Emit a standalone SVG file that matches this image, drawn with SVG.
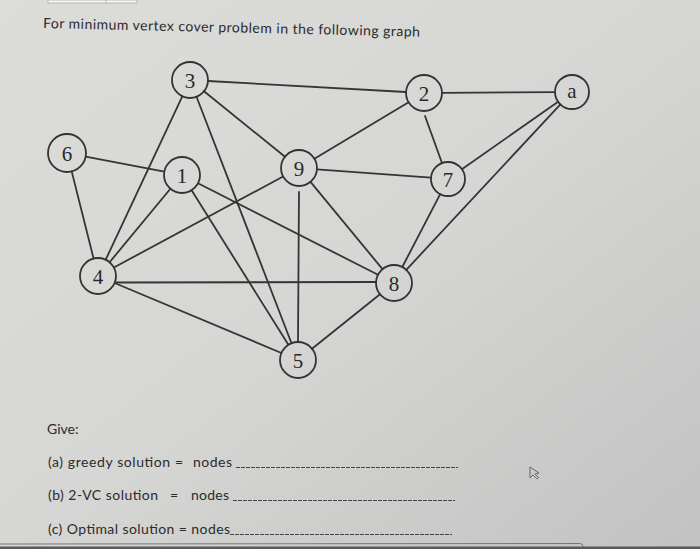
<svg xmlns="http://www.w3.org/2000/svg" width="700" height="549" viewBox="0 0 700 549">
<defs>
<linearGradient id="bg" x1="0" y1="0" x2="1" y2="1">
<stop offset="0" stop-color="#dcdcd9"/>
<stop offset="0.5" stop-color="#d6d6d4"/>
<stop offset="1" stop-color="#c2c2c2"/>
</linearGradient>
<style>
.edge{stroke:#353535;stroke-width:1.8;fill:none;stroke-linecap:round}
.node circle{fill:none;stroke:#333;stroke-width:1.8}
.node text{font-family:"Liberation Serif","DejaVu Serif",serif;font-size:21px;fill:#2a2a2a;text-anchor:middle}
.t{font-family:Lato,"Liberation Sans",sans-serif;font-size:14px;fill:#2b2b2b}
.dash{stroke:#444;stroke-width:1;stroke-dasharray:4 1}
</style>
</defs>
<rect width="700" height="549" fill="url(#bg)"/>
<rect x="48" y="0" width="89" height="3" fill="#f4f4f2" stroke="#999" stroke-width="0.6"/>
<line x1="106" y1="0" x2="106" y2="3" stroke="#999" stroke-width="0.6"/>

<text class="t" x="43" y="28" font-size="15" textLength="377" transform="rotate(1.3 43 28)">For minimum vertex cover problem in the following graph</text>

<g id="connectors">
<line class="edge" x1="208" y1="81" x2="406" y2="92"/>
<line class="edge" x1="204" y1="91.3" x2="285" y2="156.7"/>
<line class="edge" x1="182.3" y1="96.3" x2="105.7" y2="259.7"/>
<line class="edge" x1="196.5" y1="96.8" x2="291.5" y2="343.2"/>
<line class="edge" x1="85.7" y1="156.6" x2="164.3" y2="171.6"/>
<line class="edge" x1="71.7" y1="171.4" x2="93.6" y2="258.6"/>
<line class="edge" x1="170.4" y1="188.8" x2="109.6" y2="262.2"/>
<line class="edge" x1="198" y1="183.2" x2="378" y2="274.8"/>
<line class="edge" x1="191.6" y1="190.2" x2="288.4" y2="344.8"/>
<line class="edge" x1="283.1" y1="176.5" x2="113.9" y2="267.5"/>
<line class="edge" x1="314.4" y1="158.7" x2="408.6" y2="102.3"/>
<line class="edge" x1="317" y1="169.3" x2="431" y2="177.7"/>
<line class="edge" x1="310.5" y1="181.9" x2="382.5" y2="269.1"/>
<line class="edge" x1="299" y1="192" x2="298" y2="342"/>
<line class="edge" x1="442" y1="92.9" x2="555" y2="92.1"/>
<line class="edge" x1="425" y1="116" x2="442" y2="163"/>
<line class="edge" x1="558.1" y1="101.8" x2="461.9" y2="169.2"/>
<line class="edge" x1="560.4" y1="104.4" x2="406.3" y2="269.8"/>
<line class="edge" x1="440.2" y1="194.1" x2="402.3" y2="267"/>
<line class="edge" x1="116" y1="282.5" x2="376" y2="282"/>
<line class="edge" x1="114.6" y1="283" x2="281.4" y2="353"/>
<line class="edge" x1="380" y1="294.3" x2="312" y2="348.7"/>
</g>

<g id="node-3" class="node"><circle cx="190" cy="80" r="18"/><text x="190" y="88">3</text></g>
<g id="node-6" class="node"><circle cx="67" cy="153" r="19"/><text x="67" y="161">6</text></g>
<g id="node-1" class="node"><circle cx="182" cy="175" r="18"/><text x="182" y="183">1</text></g>
<g id="node-4" class="node"><circle cx="98" cy="276" r="18"/><text x="98" y="284">4</text></g>
<g id="node-9" class="node"><circle cx="299" cy="168" r="18"/><text x="299" y="176">9</text></g>
<g id="node-2" class="node"><circle cx="424" cy="93" r="18"/><text x="424" y="101">2</text></g>
<g id="node-a" class="node"><circle cx="572" cy="92" r="17"/><text x="572" y="98">a</text></g>
<g id="node-7" class="node"><circle cx="448" cy="179" r="17"/><text x="448" y="187">7</text></g>
<g id="node-8" class="node"><circle cx="394" cy="283" r="18"/><text x="394" y="291">8</text></g>
<g id="node-5" class="node"><circle cx="298" cy="360" r="18"/><text x="298" y="368">5</text></g>

<text class="t" x="47" y="434">Give:</text>
<text class="t" x="48" y="467" textLength="135">(a) greedy solution =</text>
<text class="t" x="193" y="467" textLength="39">nodes</text>
<line class="dash" x1="236" y1="467.5" x2="458" y2="467.5"/>
<text class="t" x="48" y="500" textLength="110">(b) 2-VC solution</text>
<text class="t" x="170" y="500" textLength="8">=</text>
<text class="t" x="191" y="500" textLength="38">nodes</text>
<line class="dash" x1="233" y1="500.5" x2="455" y2="500.5"/>
<text class="t" x="48" y="534" textLength="182">(c) Optimal solution = nodes</text>
<line class="dash" x1="230" y1="534.5" x2="452" y2="534.5"/>

<path d="M530 467 L530 478 L533 475 L537 479 L538.5 477.5 L535 474 L539 473 Z" fill="none" stroke="#666" stroke-width="1"/>

<path d="M0 544 L580 543.5 Q583 543.5 583 547 L583 549" fill="none" stroke="#777" stroke-width="1"/>
<rect x="0" y="546.5" width="700" height="3" fill="#5a5a5a"/>
</svg>
